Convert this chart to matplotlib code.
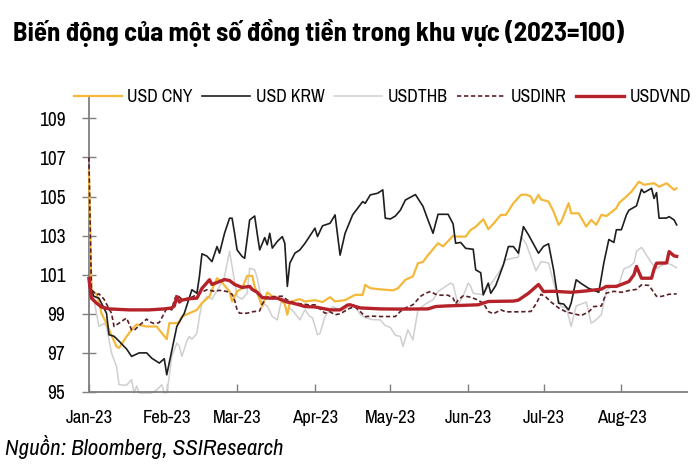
import matplotlib
matplotlib.use("Agg")
import matplotlib.pyplot as plt
import matplotlib.dates as mdates
import pandas as pd

plt.rcParams['font.family'] = ['Archivo Narrow', 'DejaVu Sans']

START = pd.Timestamp("2023-01-01")

# days since 1 Jan 2023, index values (2023=100)
cny_days = [0, 1, 3, 4, 5, 7, 8, 11, 12, 15, 17, 19, 23, 27, 28, 31, 32, 35, 36, 37, 40, 43, 45, 48, 49, 51, 53, 56, 57, 59,
            61, 63, 65, 66, 69, 71, 73, 76, 78, 79, 80, 82, 84, 86, 90, 93, 96, 98, 102, 106, 109, 110, 112, 116, 121, 123,
            126, 129, 131, 133, 135, 139, 141, 145, 146, 150, 152, 154, 157, 159, 161, 164, 166, 169, 172, 174, 176, 177,
            179, 180, 183, 185, 187, 188, 191, 192, 195, 198, 200, 202, 204, 206, 210, 211, 214, 216, 219, 221, 225, 227,
            230, 233, 234]
cny_vals = [106.3, 100.23, 100.0, 99.6, 99.03, 98.5, 98.18, 97.33, 97.25, 97.84, 98.18, 98.45, 98.35, 98.35, 98.18, 97.7,
            98.52, 98.52, 98.6, 98.86, 99.03, 99.2, 99.55, 99.89, 100.23, 100.82, 100.6, 100.14, 99.63, 100.15, 100.3,
            100.94, 100.94, 100.4, 99.37, 100.09, 99.9, 99.72, 99.5, 98.95, 99.6, 99.68, 99.75, 99.63, 99.7, 99.6, 99.85,
            99.63, 99.7, 99.97, 99.97, 100.48, 100.31, 100.25, 100.2, 100.3, 100.74, 100.91, 101.59, 101.65, 102.0,
            102.61, 102.45, 102.99, 102.95, 102.95, 103.29, 103.45, 103.84, 103.33, 103.6, 104.06, 104.06, 104.66,
            105.08, 105.1, 105.0, 104.66, 105.08, 104.85, 104.74, 104.23, 103.55, 103.7, 104.66, 104.14, 104.14, 103.46,
            103.8, 103.55, 104.06, 104.0, 104.4, 104.66, 105.0, 105.25, 105.76, 105.6, 105.68, 105.5, 105.68, 105.34,
            105.42]

krw_days = [0, 2, 4, 7, 8, 10, 12, 14, 15, 17, 20, 23, 25, 28, 30, 31, 32, 35, 38, 41, 43, 44, 45, 47, 49, 51, 52, 54, 56,
            57, 58, 59, 61, 62, 64, 66, 67, 68, 70, 71, 72, 73, 75, 77, 78, 79, 80, 82, 84, 86, 90, 91, 93, 96, 98, 100,
            102, 105, 107, 109, 110, 112, 115, 117, 118, 120, 122, 124, 126, 130, 133, 135, 137, 139, 143, 145, 146, 148,
            150, 153, 154, 156, 157, 159, 160, 162, 165, 167, 169, 171, 173, 175, 179, 181, 183, 185, 187, 189, 191, 192,
            194, 196, 199, 203, 205, 207, 209, 210, 212, 214, 215, 218, 220, 221, 224, 225, 226, 227, 230, 231, 233, 234]
krw_vals = [100.5, 99.89, 99.8, 99.03, 97.93, 97.85, 97.6, 97.33, 97.2, 96.82, 97.0, 97.0, 96.73, 96.48, 96.7, 95.88, 96.5,
            98.35, 99.03, 100.23, 100.05, 100.91, 102.07, 101.95, 101.67, 102.44, 102.1, 103.12, 103.89, 103.89, 103.12,
            102.27, 101.93, 101.84, 103.8, 104.0, 103.1, 102.27, 102.9, 102.53, 103.12, 102.36, 102.7, 102.95, 102.6,
            100.4, 101.59, 102.1, 102.27, 102.6, 103.38, 102.95, 103.5, 103.63, 104.06, 102.0, 103.12, 104.06, 104.4,
            104.74, 104.65, 105.08, 105.17, 105.34, 103.89, 103.85, 104.0, 104.3, 104.82, 105.1, 104.5, 103.8, 103.12,
            104.09, 104.09, 103.6, 102.61, 102.65, 102.35, 102.3, 101.25, 101.1, 99.97, 100.57, 100.05, 100.45, 101.5,
            102.44, 102.44, 102.1, 103.46, 103.04, 102.1, 102.45, 102.58, 101.25, 99.54, 99.5, 99.2, 99.55, 100.74,
            100.55, 100.3, 100.1, 101.6, 102.8, 102.65, 103.3, 103.3, 104.06, 104.3, 104.52, 105.37, 105.2, 105.42,
            104.9, 105.2, 103.89, 103.9, 103.97, 103.8, 103.55]

thb_days = [0, 1, 3, 4, 6, 7, 8, 9, 11, 12, 14, 15, 17, 18, 19, 20, 25, 27, 29, 30, 31, 32, 33, 35, 36, 37, 39, 40, 41, 43,
            44, 45, 47, 49, 52, 54, 56, 57, 59, 61, 63, 64, 66, 67, 69, 71, 73, 75, 77, 79, 80, 82, 84, 86, 88, 89, 91, 92,
            94, 97, 100, 102, 104, 106, 108, 110, 113, 116, 118, 120, 122, 124, 125, 127, 129, 131, 134, 137, 139, 142, 144,
            145, 147, 149, 151, 152, 153, 157, 159, 160, 163, 166, 169, 171, 172, 174, 176, 178, 180, 183, 185, 187, 188,
            190, 191, 192, 194, 196, 198, 200, 202, 204, 206, 208, 211, 213, 215, 217, 218, 220, 222, 224, 226, 227, 230,
            232, 234]
thb_vals = [100.6, 100.4, 99.03, 98.35, 98.5, 98.35, 97.67, 96.99, 96.31, 95.37, 95.35, 95.35, 95.63, 94.95, 95.3, 94.95,
            94.95, 95.1, 95.37, 94.95, 94.97, 95.8, 96.82, 97.5, 97.35, 96.82, 97.6, 97.84, 97.7, 98.01, 98.86, 99.54,
            99.89, 99.75, 100.4, 100.91, 102.2, 101.42, 99.89, 99.75, 100.06, 101.33, 101.25, 100.85, 99.54, 99.4, 98.86,
            98.69, 99.89, 99.03, 99.3, 99.03, 98.69, 99.2, 98.86, 98.8, 97.93, 98.0, 98.86, 99.37, 99.2, 99.2, 99.5, 99.35,
            98.98, 98.8, 98.7, 98.69, 98.4, 98.3, 97.9, 97.84, 97.33, 98.18, 97.67, 99.2, 99.5, 99.72, 100.14, 100.4,
            100.57, 100.5, 99.46, 99.9, 100.57, 100.4, 100.05, 99.97, 100.4, 100.5, 101.08, 101.76, 101.85, 101.9, 102.95,
            102.6, 101.9, 101.2, 101.67, 101.6, 100.6, 99.7, 99.37, 99.3, 98.86, 98.35, 99.4, 99.5, 99.6, 98.52, 98.7,
            98.95, 100.2, 100.4, 100.5, 101.3, 101.4, 101.6, 102.2, 102.4, 102.0, 101.6, 101.3, 101.4, 101.6, 101.5,
            101.35]

inr_days = [0, 1, 3, 4, 6, 7, 9, 10, 12, 14, 15, 17, 18, 20, 23, 24, 26, 28, 30, 31, 33, 34, 35, 37, 38, 41, 44, 47, 50, 52,
            55, 57, 58, 59, 60, 63, 65, 68, 69, 71, 75, 77, 79, 82, 85, 88, 90, 92, 94, 96, 98, 100, 104, 106, 108, 110, 113,
            116, 118, 122, 124, 126, 129, 132, 134, 136, 138, 140, 143, 145, 146, 147, 149, 152, 154, 157, 159, 161, 164,
            166, 171, 176, 178, 180, 182, 184, 187, 190, 192, 196, 199, 201, 204, 206, 209, 212, 215, 218, 220, 223, 226,
            228, 231, 234]
inr_vals = [107.0, 100.23, 99.97, 100.02, 99.75, 99.5, 99.03, 98.35, 98.52, 98.7, 98.78, 98.18, 98.15, 98.4, 98.73, 98.6,
            98.5, 98.55, 99.03, 99.29, 99.2, 99.72, 99.97, 99.75, 99.75, 99.85, 100.06, 100.23, 100.15, 100.2, 100.14,
            100.0, 99.7, 99.2, 99.03, 99.03, 99.1, 99.15, 99.5, 99.85, 99.89, 99.9, 99.7, 99.55, 99.5, 99.45, 99.46, 99.25,
            99.03, 99.1, 98.95, 99.0, 99.29, 99.35, 99.12, 98.86, 98.88, 98.86, 98.86, 98.86, 99.12, 99.3, 99.46, 99.89,
            100.05, 100.14, 100.0, 99.95, 99.95, 99.8, 99.51, 99.7, 99.92, 99.85, 99.75, 99.55, 99.12, 99.0, 99.2, 99.1,
            99.1, 99.12, 99.5, 100.0, 99.85, 99.6, 99.3, 99.1, 99.03, 98.91, 99.1, 99.37, 99.4, 100.06, 100.15, 100.1,
            100.19, 100.25, 100.48, 100.45, 99.89, 99.89, 100.0, 100.02]

vnd_days = [0, 1, 3, 5, 8, 16, 24, 30, 33, 34, 35, 36, 37, 40, 43, 45, 48, 49, 51, 54, 56, 58, 61, 64, 65, 67, 69, 72, 75,
            77, 79, 81, 84, 86, 90, 92, 96, 100, 103, 104, 108, 116, 124, 135, 138, 142, 155, 159, 169, 171, 175, 179, 181,
            185, 192, 198, 204, 206, 210, 211, 215, 217, 218, 220, 224, 225, 226, 230, 231, 233, 234]
vnd_vals = [100.8, 99.8, 99.55, 99.35, 99.25, 99.2, 99.2, 99.25, 99.3, 99.4, 99.88, 99.6, 99.7, 99.77, 99.8, 100.3, 100.74,
            100.5, 100.6, 100.75, 100.7, 100.5, 100.35, 100.4, 100.25, 100.1, 99.83, 99.8, 99.8, 99.7, 99.6, 99.55, 99.45,
            99.37, 99.35, 99.3, 99.2, 99.2, 99.45, 99.46, 99.3, 99.25, 99.24, 99.25, 99.37, 99.4, 99.46, 99.63, 99.65,
            99.7, 100.05, 100.5, 100.14, 100.15, 100.1, 100.17, 100.26, 100.4, 100.4, 100.45, 100.65, 101.0, 101.42,
            100.82, 100.82, 101.28, 101.59, 101.6, 102.18, 101.96, 101.94]

series = [
    ("USD CNY", cny_days, cny_vals, dict(color="#F4B93A", lw=1.6, zorder=3)),
    ("USD KRW", krw_days, krw_vals, dict(color="#1E1E1E", lw=1.2, zorder=4)),
    ("USDTHB", thb_days, thb_vals, dict(color="#CFCFCF", lw=1.1, zorder=2)),
    ("USDINR", inr_days, inr_vals, dict(color="#5B1F26", lw=1.2, dashes=(2.6, 1.6), zorder=5)),
    ("USDVND", vnd_days, vnd_vals, dict(color="#B5222A", lw=2.4, zorder=6)),
]


def to_dates(days):
    return START + pd.to_timedelta(days, unit="D")


fig = plt.figure(figsize=(7, 4.7), dpi=100)
ax = fig.add_axes([0.127, 0.166, 0.854, 0.628])

handles = []
for name, d, v, style in series:
    ln, = ax.plot(to_dates(d), v, label=name, solid_joinstyle="round", clip_on=False, **style)
    handles.append(ln)

ax.set_ylim(95, 110.1)
ax.set_yticks([95, 97, 99, 101, 103, 105, 107, 109])
ax.set_xlim(START, START + pd.Timedelta(days=238))
ax.xaxis.set_major_locator(mdates.MonthLocator())
ax.xaxis.set_major_formatter(mdates.DateFormatter("%b-%y"))

for s in ["top", "right"]:
    ax.spines[s].set_visible(False)
for s in ["left", "bottom"]:
    ax.spines[s].set_color("#7F7F7F")
    ax.spines[s].set_linewidth(1.3)

ax.tick_params(axis="y", direction="inout", length=10, width=1.0, color="#7F7F7F", labelsize=14, pad=12)
ax.tick_params(axis="x", direction="in", length=6, width=1.0, color="#7F7F7F", labelsize=13.5, pad=13)

fig.legend(handles=handles, loc="center", bbox_to_anchor=(0.546, 0.794), ncol=5, frameon=False,
           fontsize=12.8, handlelength=2.7, handletextpad=0.3, columnspacing=0.55,
           borderpad=0.1, borderaxespad=0)

fig.text(0.019, 0.93, "Biến động của một số đồng tiền trong khu vực (2023=100)",
         fontsize=19.2, fontweight="bold", va="center", ha="left",
         family=["Barlow Semi Condensed", "DejaVu Sans"])
fig.text(0.007, 0.048, "Nguồn: Bloomberg, SSIResearch", fontsize=16.5, style="italic", va="center", ha="left")

fig.savefig("out.png", dpi=100)
